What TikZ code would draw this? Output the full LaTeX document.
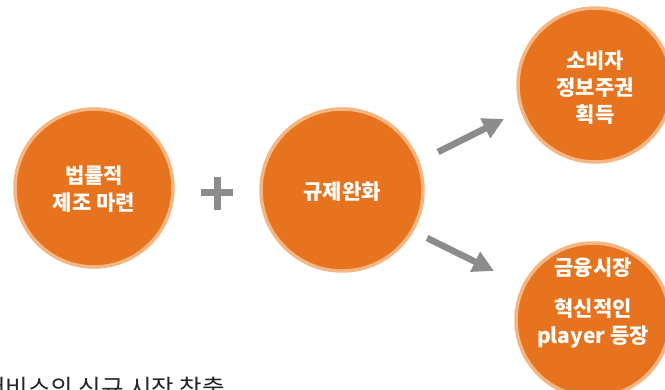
\documentclass[tikz,border=0pt]{standalone}
\usepackage{fontspec}
\setmainfont{Noto Sans CJK KR}
\usetikzlibrary{arrows.meta}
\definecolor{orfill}{HTML}{E8731E}
\definecolor{orring}{HTML}{F4B683}
\definecolor{grayarr}{HTML}{8C8C8C}
\definecolor{capcol}{HTML}{262626}
\tikzset{
  bubble/.style={circle, fill=orfill, draw=orring, line width=3.5pt, inner sep=0pt},
  btext/.style={text=white, align=center, font=\bfseries\fontsize{21}{27}\selectfont},
  bigarrow/.style={draw=grayarr, line width=6.5pt, -{Triangle[width=21pt,length=21pt]}},
}
\begin{document}
\begin{tikzpicture}[x=1pt,y=-1pt]
\useasboundingbox (0,0) rectangle (665,390);
\clip (0,0) rectangle (665,390);
% circles
\node[bubble, minimum size=158pt] (c1) at (94,188) {};
\node[bubble, minimum size=162pt] (c2) at (342,190) {};
\node[bubble, minimum size=154pt] (c3) at (595,85) {};
\node[bubble, minimum size=154pt] (c4) at (593,320) {};
% texts
\node[btext] (t1) at (94,189) {법률적\\제조 마련};
\node[btext] (t2) at (342,192) {규제완화};
\node[btext] (t3) at (595,88) {소비자\\정보주권\\획득};
\node[btext] (t4) at (593,303) {금융시장\\[14pt]혁신적인\\player 등장};
% plus sign
\node[inner sep=0pt, minimum size=0pt] (plus) at (217,193) {};
\draw[grayarr, line width=7pt] ([xshift=-16pt]plus.center) -- ([xshift=16pt]plus.center);
\draw[grayarr, line width=7pt] ([yshift=16pt]plus.center) -- ([yshift=-17pt]plus.center);
% arrows
\coordinate (a1s) at (438,152);
\coordinate (a1e) at (504,119);
\coordinate (a2s) at (427,238);
\coordinate (a2e) at (494,271);
\draw[bigarrow] (a1s) -- (a1e);
\draw[bigarrow] (a2s) -- (a2e);
% caption (cut off at the lower edge, as in the reference)
\node[anchor=base west, inner sep=0pt, text=capcol, font=\fontsize{24.5}{29}\selectfont] (cap) at (-17,398) {서비스의 신규 시장 창출};
\end{tikzpicture}
\end{document}
